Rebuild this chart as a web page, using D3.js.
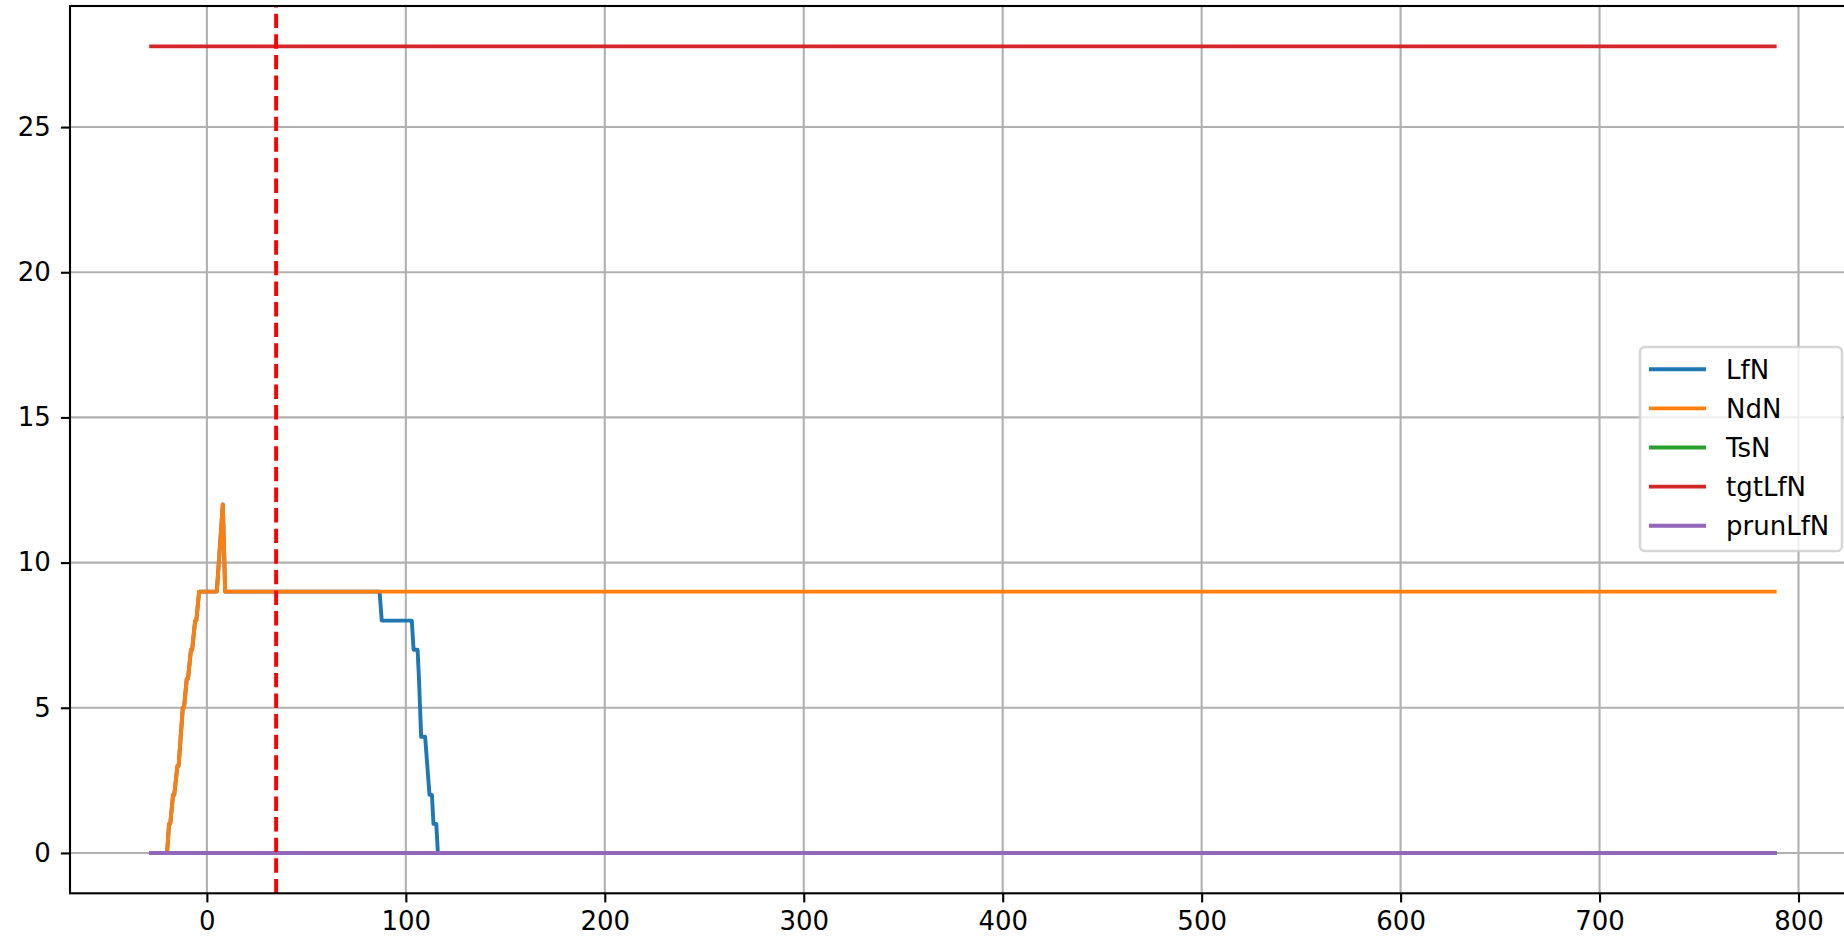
<!DOCTYPE html>
<html>
<head>
<meta charset="utf-8">
<script src="https://cdn.jsdelivr.net/npm/d3@7"></script>
<style>
  body { margin: 0; background: #fff; }
  text { font-family: "DejaVu Sans", sans-serif; }
</style>
</head>
<body>
<div id="chart-area"></div>
<script>
const FONT_SIZE = 26;

// series vertices (x, y)
const ndnX = [-29, -20, -19, -18.4, -17, -16.4, -14.8, -14.2, -12.1, -11.5, -10.1, -9.5, -8, -7.4, -5.9, -5.3, -3.9, 5, 8, 9.2, 789];
const ndnY = [0, 0, 1, 1, 2, 2, 3, 3, 5, 5, 6, 6, 7, 7, 8, 8, 9, 9, 12, 9, 9];

const lfnX = [-29, -20, -19, -18.4, -17, -16.4, -14.8, -14.2, -12.1, -11.5, -10.1, -9.5, -8, -7.4, -5.9, -5.3, -3.9, 5, 8, 9.2,
  86.8, 87.9, 103, 103.9, 105.9, 106.6, 107.7, 109.7, 111.9, 113.1, 113.9, 115.3, 116.1, 789];
const lfnY = [0, 0, 1, 1, 2, 2, 3, 3, 5, 5, 6, 6, 7, 7, 8, 8, 9, 9, 12, 9,
  9, 8, 8, 7, 7, 6, 4, 4, 2, 2, 1, 1, 0, 0];

const tsnX = [-29, 789];
const tsnY = [0, 0];

const tgtX = [-29, 789];
const tgtY = [27.78, 27.78];

const prunX = [-29, 789];
const prunY = [0, 0];

const markerX = 34.8;

const seriesNames = ["LfN", "NdN", "TsN", "tgtLfN", "prunLfN"];
const seriesColors = ["#1f77b4", "#ff7f0e", "#2ca02c", "#d62728", "#9467bd"];
const seriesData = [[lfnX, lfnY], [ndnX, ndnY], [tsnX, tsnY], [tgtX, tgtY], [prunX, prunY]];

const xTicks = [0, 100, 200, 300, 400, 500, 600, 700, 800];
const yTicks = [0, 5, 10, 15, 20, 25];

let plotLeft = 70, plotTop = 6, plotRight = 1858, plotBottom = 893.3;

const svg = d3.select("#chart-area").append("svg")
    .attr("width", 1844)
    .attr("height", 945);

let x = d3.scaleLinear().domain([-68.8, 829.9]).range([plotLeft, plotRight]);
let y = d3.scaleLinear().domain([-1.39, 29.17]).range([plotBottom, plotTop]);

//grid
svg.append("g").selectAll("line").data(xTicks).join("line")
    .attr("x1", d => x(d)).attr("x2", d => x(d))
    .attr("y1", plotTop).attr("y2", plotBottom)
    .attr("stroke", "#b0b0b0").attr("stroke-width", 2.1);
svg.append("g").selectAll("line").data(yTicks).join("line")
    .attr("x1", plotLeft).attr("x2", plotRight)
    .attr("y1", d => y(d)).attr("y2", d => y(d))
    .attr("stroke", "#b0b0b0").attr("stroke-width", 2.1);

// lines
let line = d3.line().x(d => x(d[0])).y(d => y(d[1]));
seriesData.forEach((s, i) => {
    let pts = s[0].map((v, j) => [v, s[1][j]]);
    svg.append("path")
        .attr("d", line(pts))
        .attr("fill", "none")
        .attr("stroke", seriesColors[i])
        .attr("stroke-width", 3.9)
        .attr("stroke-linejoin", "round")
        .attr("stroke-linecap", "butt");
});

// dashed marker, drawn bottom to top like axvline
svg.append("line")
    .attr("x1", x(markerX)).attr("x2", x(markerX))
    .attr("y1", plotBottom).attr("y2", plotTop)
    .attr("stroke", "#ff0000").attr("stroke-width", 3.9)
    .attr("stroke-dasharray", "14.4,6.2");

// axes
let xAxis = d3.axisBottom(x).tickValues(xTicks).tickSize(9.1).tickPadding(9).tickFormat(d3.format("d"));
let yAxis = d3.axisLeft(y).tickValues(yTicks).tickSize(9.1).tickPadding(10).tickFormat(d3.format("d"));

let gx = svg.append("g").attr("transform", `translate(0,${plotBottom})`).call(xAxis);
let gy = svg.append("g").attr("transform", `translate(${plotLeft},0)`).call(yAxis);
[gx, gy].forEach(g => {
    g.select(".domain").remove();
    g.selectAll(".tick line").attr("stroke", "black").attr("stroke-width", 2.1);
    g.selectAll(".tick text").attr("fill", "black").attr("font-size", `${FONT_SIZE}px`)
        .attr("font-family", "DejaVu Sans");
});

// spines
svg.append("rect")
    .attr("x", plotLeft).attr("y", plotTop)
    .attr("width", plotRight - plotLeft).attr("height", plotBottom - plotTop)
    .attr("fill", "none").attr("stroke", "black").attr("stroke-width", 2.1);

// legend, center right
let legend = svg.append("g");
legend.append("rect")
    .attr("x", 1640).attr("y", 347)
    .attr("width", 202).attr("height", 204)
    .attr("rx", 5).attr("ry", 5)
    .attr("fill", "white").attr("fill-opacity", 0.8)
    .attr("stroke", "#cccccc").attr("stroke-opacity", 0.8).attr("stroke-width", 2.6);

seriesNames.forEach((name, i) => {
    let ly = 369.3 + i * 39.1;
    legend.append("line")
        .attr("x1", 1649).attr("x2", 1706)
        .attr("y1", ly).attr("y2", ly)
        .attr("stroke", seriesColors[i]).attr("stroke-width", 3.9);
    legend.append("text")
        .attr("x", 1726).attr("y", ly + 9.6)
        .attr("fill", "black")
        .attr("font-size", `${FONT_SIZE}px`)
        .text(name);
});
</script>
</body>
</html>
